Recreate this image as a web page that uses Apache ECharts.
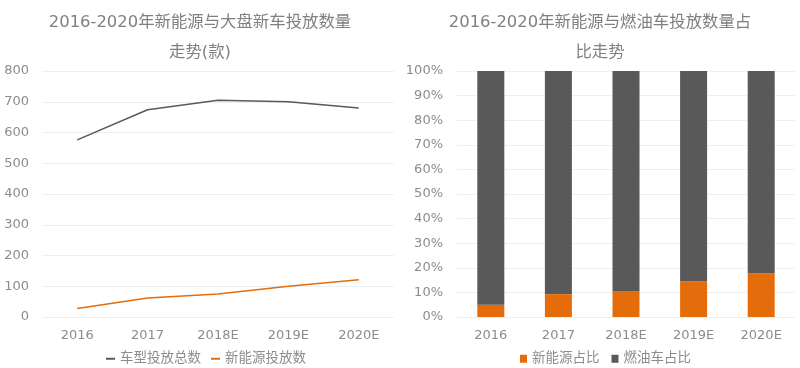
<!DOCTYPE html>
<html><head><meta charset="utf-8">
<script src="https://cdn.jsdelivr.net/npm/echarts@6/dist/echarts.min.js"></script>
<style>html,body{margin:0;padding:0;background:#fff}#c{width:800px;height:368px}</style>
</head><body><div id="c"></div>
<script>
const years = ['2016','2017','2018E','2019E','2020E'];
const totalLaunches = [576, 674, 705, 700, 680];
const nevLaunches = [28, 62, 75, 100, 121];
const nevShare = [5.0, 9.3, 10.5, 14.4, 17.8];
const iceShare = [95.0, 90.7, 89.5, 85.6, 82.2];
const leftTicks = [0,100,200,300,400,500,600,700,800];

const FONT = '"DejaVu Sans","Noto Sans CJK SC",sans-serif';
const GRAY = '#595959', ORANGE = '#E46C0A';
const txt = '#8c8c8c';
const chart = echarts.init(document.getElementById('c'));
chart.setOption({
  animation:false,
  textStyle:{fontFamily:FONT},
  title:[
    {text:'2016-2020年新能源与大盘新车投放数量\n走势(款)', left:195, top:3, textAlign:'center',
     textStyle:{fontSize:16.4, fontWeight:'normal', color:'#808080', lineHeight:30, fontFamily:FONT}},
    {text:'2016-2020年新能源与燃油车投放数量占\n比走势', left:595, top:3, textAlign:'center',
     textStyle:{fontSize:16.4, fontWeight:'normal', color:'#808080', lineHeight:30, fontFamily:FONT}}
  ],
  legend:[
    {data:['车型投放总数','新能源投放数'], left:101, top:347, icon:'rect', itemWidth:9, itemHeight:2, itemGap:10,
     textStyle:{color:txt, fontSize:13.5, fontFamily:FONT}},
    {data:['新能源占比','燃油车占比'], left:515, top:347, icon:'rect', itemWidth:7, itemHeight:8, itemGap:12,
     textStyle:{color:txt, fontSize:13.5, fontFamily:FONT}}
  ],
  grid:[
    {left:42, right:406, top:71, bottom:51, containLabel:false},
    {left:457, right:5, top:71, bottom:51, containLabel:false}
  ],
  xAxis:[
    {type:'category', gridIndex:0, data:years, boundaryGap:true,
     axisLine:{show:false}, axisTick:{show:false},
     axisLabel:{color:txt, fontSize:13, margin:12, fontFamily:FONT}},
    {type:'category', gridIndex:1, data:years, boundaryGap:true,
     axisLine:{show:false}, axisTick:{show:false},
     axisLabel:{color:txt, fontSize:13, margin:12, fontFamily:FONT}}
  ],
  yAxis:[
    {type:'value', gridIndex:0, min:leftTicks[0], max:leftTicks[leftTicks.length-1], interval:100,
     axisLine:{show:false}, axisTick:{show:false},
     splitLine:{lineStyle:{color:'#efefef'}},
     axisLabel:{color:txt, fontSize:13, margin:13, fontFamily:FONT}},
    {type:'value', gridIndex:1, min:0, max:100, interval:10,
     axisLine:{show:false}, axisTick:{show:false},
     splitLine:{lineStyle:{color:'#efefef'}},
     axisLabel:{color:txt, fontSize:13, margin:14, formatter:'{value}%', fontFamily:FONT}}
  ],
  series:[
    {name:'车型投放总数', type:'line', xAxisIndex:0, yAxisIndex:0, data:totalLaunches,
     showSymbol:false, symbol:'none', lineStyle:{color:GRAY, width:1.5}, itemStyle:{color:GRAY}},
    {name:'新能源投放数', type:'line', xAxisIndex:0, yAxisIndex:0, data:nevLaunches,
     showSymbol:false, symbol:'none', lineStyle:{color:ORANGE, width:1.5}, itemStyle:{color:ORANGE}},
    {name:'新能源占比', type:'bar', xAxisIndex:1, yAxisIndex:1, stack:'s', data:nevShare,
     barWidth:27, itemStyle:{color:ORANGE}},
    {name:'燃油车占比', type:'bar', xAxisIndex:1, yAxisIndex:1, stack:'s', data:iceShare,
     barWidth:27, itemStyle:{color:GRAY}}
  ]
});
</script></body></html>
